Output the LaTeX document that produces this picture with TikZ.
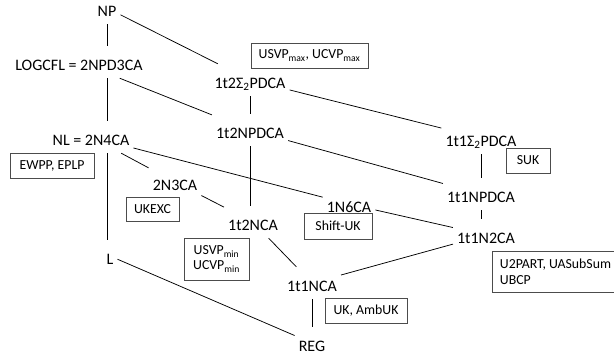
\documentclass[tikz,border=0pt]{standalone}
\usepackage{fontspec}
\setmainfont{Carlito}
\begin{document}
\begin{tikzpicture}[x=1pt,y=-1pt,
  cls/.style={font=\fontsize{16}{19}\selectfont, text height=16.3pt, text depth=0pt,
    minimum height=32pt, inner ysep=0pt, inner xsep=4pt},
  note/.style={draw=black!70, line width=0.8pt, font=\fontsize{13.8}{17}\selectfont,
    inner sep=0pt, align=center},
  conn/.style={line width=0.75pt, black}]
\useasboundingbox (0,0) rectangle (614,360);
% class nodes
\node[cls] (NP) at (107,8) {NP};
\node[cls] (LOG) at (79,62) {LOGCFL = 2NPD3CA};
\node[cls] (S2) at (250,80) {1t2Σ\textsubscript{2}PDCA};
\node[cls] (NPD2) at (250,130) {1t2NPDCA};
\node[cls] (NL) at (91,137) {NL = 2N4CA};
\node[cls] (S1) at (481,138) {1t1Σ\textsubscript{2}PDCA};
\node[cls] (N3) at (175,182) {2N3CA};
\node[cls] (NPD1) at (481,194) {1t1NPDCA};
\node[cls] (N6) at (349,204) {1N6CA};
\node[cls] (N2) at (253,222) {1t2NCA};
\node[cls] (N12) at (486,235) {1t1N2CA};
\node[cls] (L) at (110,256) {L};
\node[cls] (N1) at (312,283) {1t1NCA};
\node[cls] (REG) at (312,343) {REG};
% annotation boxes
\node[note, minimum width=117pt, minimum height=25pt] (bmax) at (309.5,55.5) {USVP\textsubscript{max}, UCVP\textsubscript{max}};
\node[note, minimum width=84pt, minimum height=25pt] (bew) at (52,165.5) {EWPP, EPLP};
\node[note, minimum width=44pt, minimum height=25pt] (bsuk) at (528,160.5) {SUK};
\node[note, minimum width=53pt, minimum height=24pt] (bukexc) at (152.5,209) {UKEXC};
\node[note, minimum width=68pt, minimum height=26pt] (bshift) at (338,226) {Shift-UK};
\node[note, minimum width=65pt, minimum height=42pt] (bmin) at (216.5,259) {USVP\textsubscript{min}\\[-2pt]UCVP\textsubscript{min}};
\node[note, minimum width=121pt, minimum height=41pt, inner xsep=8pt, align=left, anchor=west] (bu2) at (491.5,271.5) {\mbox{U2PART, UASubSum}\\[-1pt]UBCP};
\node[note, minimum width=82pt, minimum height=25pt] (buk) at (366,310.5) {UK, AmbUK};
% connectors
\draw[conn] (NP) -- (NP |- LOG.north);
\draw[conn] (NP) -- (S2);
\draw[conn] (NP |- LOG.south) -- (NP |- NL.north);
\draw[conn] (LOG) -- (NPD2);
\draw[conn] (S2) -- (NPD2);
\draw[conn] (S2) -- (S1);
\draw[conn] (NPD2) -- (NPD1);
\draw[conn] (NL) -- (N6);
\draw[conn] (NL) -- (N3);
\draw[conn] (NP |- NL.south) -- (NP |- L.north);
\draw[conn] (NPD2) -- (NPD2 |- N2.north);
\draw[conn] (N3) -- (N2);
\draw[conn] (N2) -- (N1);
\draw[conn] (S1) -- (NPD1);
\draw[conn] (NPD1) -- (NPD1 |- N12.north);
\draw[conn] (N6) -- (N12);
\draw[conn] (N12) -- (N1);
\draw[conn] (N1) -- (REG);
\draw[conn] (L) -- (REG);
\end{tikzpicture}
\end{document}
